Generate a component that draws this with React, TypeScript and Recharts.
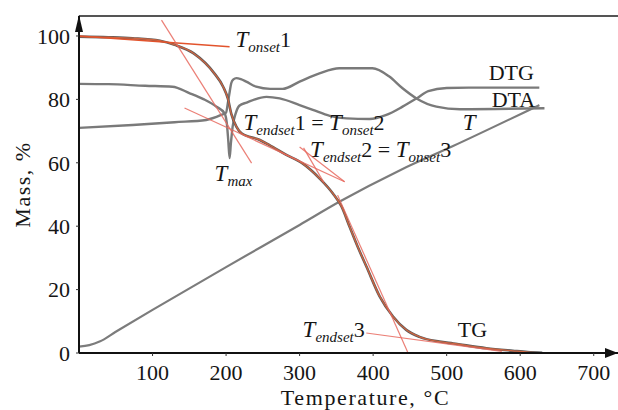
import React from 'react';
import { ComposedChart, Line, XAxis, YAxis, ReferenceLine, ReferenceDot } from 'recharts';

const FONT = 'Liberation Serif, Times New Roman, serif';
const fontStyle = { fontFamily: FONT };

// axes
const xTicks = [100, 200, 300, 400, 500, 600, 700];
const yTicks = [0, 20, 40, 60, 80, 100];
const X_MAX = 733;
const Y_MAX = 106.3;

// TG curve: [temperature °C, mass %]
const tgCurve: [number, number][] = [
  [0, 99.8], [40, 99.6], [73, 99.3], [110, 98.5], [130, 97.2], [156, 94.5], [184, 88.2],
  [196, 84.0], [202.4, 80.3], [207, 75.5], [214, 71.4], [221, 69.3], [246, 67.2],
  [259, 65.6], [282, 62.5], [304, 59.8], [327, 55.1], [345, 50.4], [357, 46.2],
  [368, 39.8], [379, 33.5], [391, 27.2], [409, 17.8], [427, 11.5], [445, 7.3],
  [463, 5.1], [490, 3.6], [509, 3.0], [554, 1.5], [590, 0.7], [610, 0.3], [630, 0.1],
];

// DTG curve
const dtgCurve: [number, number][] = [
  [0, 84.9], [40, 84.8], [90, 84.3], [127, 84.0], [150, 82.0], [170, 80.0], [187, 77.7],
  [198, 75.6], [201, 72.5], [203, 67.0], [204.8, 61.5], [206.5, 66.0], [209, 71.5],
  [213, 75.5], [218, 78.0], [228, 79.0], [255, 80.8], [273, 80.3], [300, 78.2],
  [318, 76.7], [341, 74.8], [364, 74.0], [395, 73.8], [418, 75.1], [440, 77.7],
  [459, 80.3], [475, 82.6], [500, 83.6], [530, 83.7], [626, 83.7],
];

// DTA curve
const dtaCurve: [number, number][] = [
  [0, 71.0], [73, 71.9], [130, 72.8], [173, 73.5], [193.5, 75.1], [200, 75.8],
  [202.4, 78.8], [205, 82.5], [207, 85.1], [210, 86.3], [214, 86.7], [220, 86.4],
  [227.5, 85.6], [241, 84.0], [260, 83.3], [277, 83.3], [300, 85.6], [327, 88.2],
  [354, 89.8], [399, 89.8], [422, 87.2], [440, 83.5], [459, 80.3], [486, 77.7],
  [518, 76.9], [633, 77.2],
];

// T (temperature) curve
const tCurve: [number, number][] = [
  [0, 2.0], [14, 2.5], [28, 3.6], [50, 6.7], [100, 13.6], [200, 27.1], [300, 40.4],
  [354, 47.7], [436, 57.6], [508, 65.2], [626, 78.2],
];

// tangent construction lines
const tangentOnset1: [number, number][] = [[0, 100.0], [204.8, 96.6]];
const tangentStep1: [number, number][] = [[112.2, 105.0], [234.7, 59.9]];
const tangentPlateau1: [number, number][] = [[143.5, 77.3], [361.2, 54.0]];
const tangentPlateau2: [number, number][] = [[300, 65.0], [361.2, 54.0]];
const tangentStep2: [number, number][] = [[305.4, 64.7], [332.7, 53.9]];
const tangentStep3: [number, number][] = [[351.7, 49.8], [446.9, 0.3]];
const tangentEnd3: [number, number][] = [[390.7, 6.3], [575, 0.5]];

// annotation texts: [text, kind] kind: 'i' italic main, 's' italic subscript, 'r' regular
const annotationTexts: [string, string][][] = [
  [['T', 'i'], ['onset', 's'], ['1', 'r']],
  [['T', 'i'], ['endset', 's'], ['1 = ', 'r'], ['T', 'i'], ['onset', 's'], ['2', 'r']],
  [['T', 'i'], ['endset', 's'], ['2 = ', 'r'], ['T', 'i'], ['onset', 's'], ['3', 'r']],
  [['T', 'i'], ['max', 's']],
  [['T', 'i']],
  [['DTG', 'r']],
  [['DTA', 'r']],
  [['TG', 'r']],
  [['T', 'i'], ['endset', 's'], ['3', 'r']],
];
// annotation anchors (text start, baseline) in data units
const annotationX = [212.9, 223.8, 314.3, 184.4, 521.8, 557.1, 561.2, 515, 304.1];
const annotationY = [96.5, 70.3, 61.9, 54.1, 70.3, 86.1, 77.6, 5.0, 5.0];

const toRows = (pts: [number, number][]) => pts.map(([x, y]) => ({ x, y }));

const AnnotationShape = (props: any) => {
  const { cx, cy, parts } = props;
  if (cx == null || cy == null) return null;
  let offset = 0;
  return (
    <text x={cx} y={cy} fill="#151515" style={fontStyle}>
      {parts.map(([t, k]: [string, string], i: number) => {
        const target = k === 's' ? 5 : 0;
        const dy = target - offset;
        offset = target;
        return (
          <tspan
            key={i}
            dy={dy}
            fontSize={k === 's' ? 15 : k === 'i' ? 23 : 22}
            fontStyle={k === 'r' ? 'normal' : 'italic'}
            style={{ whiteSpace: 'pre', fontFamily: FONT }}
          >
            {t}
          </tspan>
        );
      })}
    </text>
  );
};

const XTitle = (props: any) => {
  const vb = props.viewBox || { x: 79, y: 353, width: 539, height: 57 };
  return (
    <text
      x={vb.x + vb.width / 2 + 17}
      y={vb.y + 52}
      textAnchor="middle"
      fontSize={22}
      letterSpacing={1.6}
      fill="#151515"
      style={fontStyle}
    >
      Temperature, °C
    </text>
  );
};

const YTitle = (props: any) => {
  const vb = props.viewBox || { x: 0, y: 16, width: 79, height: 337 };
  const cx = 30;
  const cy = vb.y + vb.height / 2;
  return (
    <text
      x={cx}
      y={cy}
      transform={`rotate(-90, ${cx}, ${cy})`}
      textAnchor="middle"
      fontSize={22}
      letterSpacing={1.5}
      fill="#151515"
      style={fontStyle}
    >
      Mass, %
    </text>
  );
};

const UpArrow = (props: any) => {
  const { cx, cy } = props;
  if (cx == null) return null;
  return <polygon points={`${cx - 4},${cy + 16} ${cx},${cy - 1} ${cx + 4},${cy + 16}`} fill="#111" />;
};

const RightArrow = (props: any) => {
  const { cx, cy } = props;
  if (cx == null) return null;
  return <polygon points={`${cx},${cy} ${cx - 13},${cy - 5} ${cx - 13},${cy + 5}`} fill="#111" />;
};

const tangentStyle = { stroke: '#e8685e', strokeWidth: 1.2, strokeOpacity: 0.85 };
const tickStyle = { fontFamily: FONT, fontSize: 22, fill: '#151515', style: fontStyle };

export default function App() {
  const curveProps = {
    dataKey: 'y',
    dot: false,
    activeDot: false,
    isAnimationActive: false,
    type: 'monotone' as const,
  };
  const tangents = [tangentStep1, tangentPlateau1, tangentPlateau2, tangentStep2, tangentStep3, tangentEnd3];
  return (
    <div style={{ position: 'absolute', left: 0, top: 0, width: 618, height: 410, background: '#fff', fontFamily: FONT }}>
      <ComposedChart width={618} height={410} margin={{ top: 16, right: 0, bottom: 0, left: 0 }} style={fontStyle}>
        <XAxis
          dataKey="x"
          type="number"
          domain={[0, X_MAX]}
          ticks={xTicks}
          allowDataOverflow
          height={57}
          axisLine={{ stroke: '#111', strokeWidth: 2 }}
          tickLine={{ stroke: '#333' }}
          tickSize={3}
          tickMargin={8}
          tick={tickStyle}
          label={<XTitle />}
        />
        <YAxis
          type="number"
          domain={[0, Y_MAX]}
          ticks={yTicks}
          allowDataOverflow
          width={79}
          axisLine={{ stroke: '#111', strokeWidth: 2 }}
          tickLine={{ stroke: '#333' }}
          tickSize={3}
          tickMargin={6}
          tick={tickStyle}
          label={<YTitle />}
        />
        <ReferenceLine y={Y_MAX} stroke="#555" strokeWidth={2} ifOverflow="visible" />

        <Line {...curveProps} data={toRows(tCurve)} stroke="#7c7c7c" strokeWidth={2.2} />
        <Line {...curveProps} data={toRows(dtaCurve)} stroke="#7a7a7a" strokeWidth={2.4} />
        <Line {...curveProps} data={toRows(dtgCurve)} stroke="#7a7a7a" strokeWidth={2.4} />
        <Line {...curveProps} data={toRows(tgCurve)} stroke="#5a5a5a" strokeWidth={2.6} />
        <Line {...curveProps} data={toRows(tgCurve)} stroke="#e2663c" strokeWidth={1.3} strokeOpacity={0.85} />

        <Line
          data={toRows(tangentOnset1)}
          dataKey="y"
          type="linear"
          dot={false}
          activeDot={false}
          isAnimationActive={false}
          stroke="#e2532c"
          strokeWidth={1.6}
        />
        {tangents.map((seg, i) => (
          <Line
            key={i}
            data={toRows(seg)}
            dataKey="y"
            type="linear"
            dot={false}
            activeDot={false}
            isAnimationActive={false}
            {...tangentStyle}
          />
        ))}

        {annotationTexts.map((parts, i) => (
          <ReferenceDot
            key={`a${i}`}
            x={annotationX[i]}
            y={annotationY[i]}
            r={0}
            ifOverflow="visible"
            shape={(p: any) => <AnnotationShape {...p} parts={parts} />}
          />
        ))}

        <ReferenceDot x={0} y={Y_MAX} r={0} ifOverflow="visible" shape={(p: any) => <UpArrow {...p} />} />
        <ReferenceDot x={X_MAX} y={0} r={0} ifOverflow="visible" shape={(p: any) => <RightArrow {...p} />} />
      </ComposedChart>
    </div>
  );
}
